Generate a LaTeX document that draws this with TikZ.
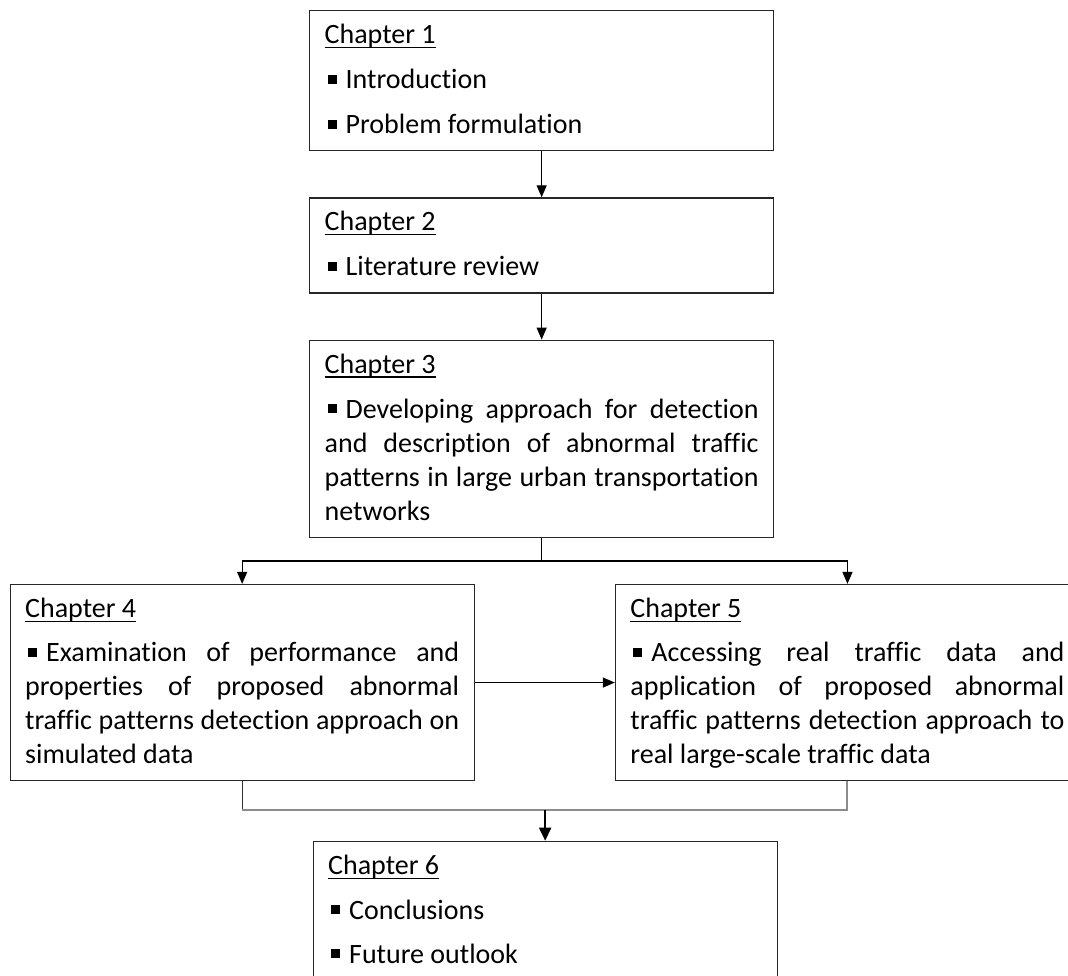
\documentclass[tikz,border=0pt]{standalone}
\usepackage{fontspec}
\setmainfont[Ligatures=NoCommon]{Carlito}
\usepackage{xcolor}
\usepackage{tikz}
\usetikzlibrary{positioning, arrows.meta}
\hyphenpenalty=10000
\tolerance=10000
\newcommand{\chaphead}[1]{\setbox0\hbox{#1}\rlap{\rule[-4.5pt]{\wd0}{1.3pt}}\rule{0pt}{33pt}\box0}
\newcommand{\bul}{\hspace*{3pt}\rule[5pt]{9pt}{9pt}\hspace{9pt}}
\newcommand{\boxend}{\rule[-17pt]{0pt}{17pt}}
\definecolor{linegray}{HTML}{8C8C8C}
\tikzstyle{chapbox} = [rectangle, draw=black!85, line width=1.3pt, text width=434pt, inner xsep=15pt, inner ysep=0pt, align=justify, font=\fontsize{28pt}{34pt}\selectfont]
\tikzstyle{arrow} = [line width=1.3pt, -{Triangle[length=12pt,width=10pt]}]
\tikzstyle{merge} = [line width=2pt, draw=linegray]

\begin{document}
\begin{tikzpicture}[node distance=46pt]
    \useasboundingbox (0,0) rectangle (1068pt,-976pt);
    \clip (0,0) rectangle (1068pt,-976pt);
    \node (ch1) [chapbox, anchor=north west] at (309pt,-10pt) {\chaphead{Chapter 1}\\[11pt]\bul Introduction\\[11pt]\bul Problem formulation\boxend};
    \node (ch2) [chapbox, below=of ch1] {\chaphead{Chapter 2}\\[11pt]\bul Literature review\boxend};
    \node (ch3) [chapbox, below=of ch2] {\chaphead{Chapter 3}\\[11pt]\bul Developing approach for detection \linebreak and description of abnormal traffic \linebreak patterns in large urban transportation \linebreak networks\boxend};
    \node (ch4) [chapbox, below=of ch3, xshift=-299.5pt] {\chaphead{Chapter 4}\\[10pt]\bul Examination of performance and \linebreak properties of proposed abnormal \linebreak traffic patterns detection approach on \linebreak simulated data\boxend};
    \node (ch5) [chapbox, right=140pt of ch4] {\chaphead{Chapter 5}\\[10pt]\bul Accessing real traffic data and \linebreak application of proposed abnormal \linebreak traffic patterns detection approach to \linebreak real large-scale traffic data\boxend};
    \node (ch6) [chapbox, below=59.5pt of ch4, xshift=303pt] {\chaphead{Chapter 6}\\[11pt]\bul Conclusions\\[10pt]\bul Future outlook\boxend};

    \draw [arrow] (ch1) -- (ch2);
    \draw [arrow] (ch2) -- (ch3);
    \draw [arrow] (ch3.south) -- ++(0,-23pt) -| (ch4.north);
    \draw [arrow] (ch3.south) -- ++(0,-23pt) -| (ch5.north);
    \draw [arrow] (ch4) -- (ch5);
    %\draw [arrow] (ch5.south) |- (ch6.east);
    \draw [line width=1.3pt, draw=black!80] (ch4.south) -- ++(0,-28.5pt) coordinate (join);
    \draw [merge] (join) -| (ch5.south);
    \draw [line width=2pt, -{Triangle[length=13pt,width=12pt]}] (join -| ch6.north) -- (ch6.north);
\end{tikzpicture}
\end{document}
